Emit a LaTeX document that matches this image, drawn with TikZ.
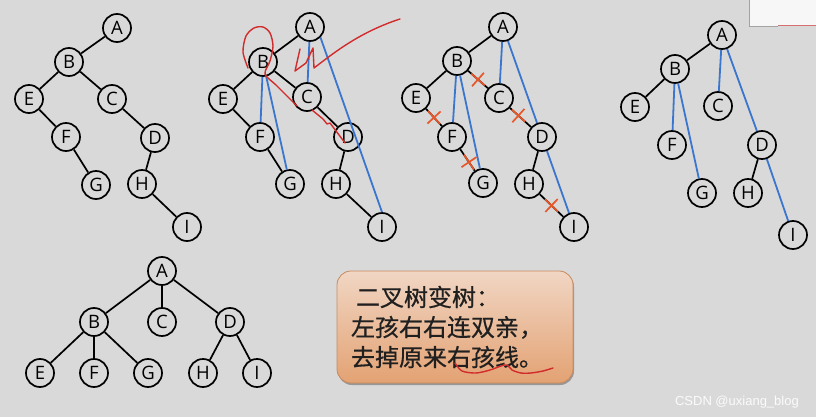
\documentclass[tikz,border=0pt]{standalone}
\usepackage{fontspec}
\setmainfont{Open Sans}
\newfontfamily\cjk[FakeBold=0.6]{Noto Sans CJK SC}
\newfontfamily\markfont{Liberation Sans}
\usetikzlibrary{shapes.misc,shadows}
\definecolor{bg}{HTML}{D9D9D9}
\definecolor{treeblue}{HTML}{3A76CF}
\definecolor{xred}{HTML}{E8572A}
\definecolor{penred}{HTML}{D22B2B}
\definecolor{boxtop}{HTML}{F1D6C4}
\definecolor{boxbot}{HTML}{E3A273}
\definecolor{boxline}{HTML}{C88A5C}
\definecolor{textgray}{HTML}{202020}

\begin{document}
\begin{tikzpicture}
  [x=1pt, y=-1pt, line width=1.7pt,
   vtx/.style={draw, circle, fill=bg, inner sep=0pt, minimum size=28pt,
               font=\fontsize{18.5}{18.5}\selectfont},
   blueline/.style={draw=treeblue, line width=1.8pt},
   cut/.style={cross out, draw=xred, sloped, rotate=45, minimum size=11pt,
               inner sep=0pt, line width=1.7pt},
   pen/.style={penred, line width=1.4pt, line cap=round, line join=round},
   tipbox/.style={draw=boxline, line width=0.8pt, rounded corners=14pt,
                  top color=boxtop, bottom color=boxbot,
                  minimum width=236pt, minimum height=112pt, text width=208pt,
                  inner xsep=14pt, align=left, text=textgray,
                  font=\cjk\fontsize{24}{30}\selectfont,
                  drop shadow={shadow xshift=1pt, shadow yshift=-2pt, opacity=0.3, fill=black}},
   level distance=51pt,
   level 1/.style={sibling distance=68pt},
   level 2/.style={sibling distance=54pt}]
  \useasboundingbox (0,0) rectangle (816,417);
  \fill[bg] (0,0) rectangle (816,417);
  \fill[white!80!bg] (749,0) rectangle (816,26);
  \draw[bg!75!black, line width=0.6pt] (749,0) -- (749,26) -- (778,26);
  \draw[penred!60!bg, line width=1pt] (778,26) -- (816,26);

  % binary tree
  \node[vtx] (A1) at (117,28) {A};
  \node[vtx] (B1) at (69,62) {B};
  \node[vtx] (E1) at (29,99) {E};
  \node[vtx] (C1) at (112,99) {C};
  \node[vtx] (F1) at (66,137) {F};
  \node[vtx] (D1) at (155,138) {D};
  \node[vtx] (G1) at (96,185) {G};
  \node[vtx] (H1) at (142,184) {H};
  \node[vtx] (I1) at (187,227) {I};
  \draw (A1) -- (B1) (B1) -- (E1) (B1) -- (C1) (E1) -- (F1) (F1) -- (G1)
        (C1) -- (D1) (D1) -- (H1) (H1) -- (I1);

  % connect parents
  \node[vtx] (A2) at (310,27) {A};
  \node[vtx] (B2) at (263,62) {B};
  \node[vtx] (E2) at (223,99) {E};
  \node[vtx] (C2) at (307,97) {C};
  \node[vtx] (F2) at (260,137) {F};
  \node[vtx] (D2) at (348,137) {D};
  \node[vtx] (G2) at (290,184) {G};
  \node[vtx] (H2) at (336,184) {H};
  \node[vtx] (I2) at (382,227) {I};
  \draw (A2) -- (B2) (B2) -- (E2) (B2) -- (C2) (E2) -- (F2) (F2) -- (G2)
        (C2) -- (D2) (D2) -- (H2) (H2) -- (I2);
  \draw[blueline] (A2) -- (C2) (A2.south east) -- (I2.north) (B2) -- (F2) (B2) -- (G2);
  \draw[pen] plot[smooth] coordinates {(248,68) (243,52) (246,36) (254,28) (263,27)
        (270,33) (273,46) (270,61) (265,74) (276,85) (288,97) (297,106)};
  \draw[pen] (312,110) -- (323,119) -- (327,124) -- (330,123) -- (345,143);
  \draw[pen] (300,49) -- (295,71) -- (306,63) -- (313,48) -- (314,68)
        .. controls (335,52) and (360,32) .. (400,19);

  % cut right child lines
  \node[vtx] (A3) at (503,27) {A};
  \node[vtx] (B3) at (457,61) {B};
  \node[vtx] (E3) at (416,98) {E};
  \node[vtx] (C3) at (499,98) {C};
  \node[vtx] (F3) at (452,137) {F};
  \node[vtx] (D3) at (542,137) {D};
  \node[vtx] (G3) at (483,183) {G};
  \node[vtx] (H3) at (529,184) {H};
  \node[vtx] (I3) at (574,227) {I};
  \draw (A3) -- (B3) (B3) -- (E3) (B3) -- (C3) (E3) -- (F3) (F3) -- (G3)
        (C3) -- (D3) (D3) -- (H3) (H3) -- (I3);
  \draw[blueline] (A3) -- (C3) (A3) -- (D3) (D3) -- (I3) (B3) -- (F3) (B3) -- (G3);
  \path (B3) -- (C3) node[cut, midway] (cutBC) {};
  \path (E3) -- (F3) node[cut, midway] (cutEF) {};
  \path (F3) -- (G3) node[cut, pos=0.6] (cutFG) {};
  \path (C3) -- (D3) node[cut, pos=0.4] (cutCD) {};
  \path (H3) -- (I3) node[cut, midway] (cutHI) {};

  % result
  \node[vtx] (A4) at (722,35) {A};
  \node[vtx] (B4) at (675,69) {B};
  \node[vtx] (E4) at (635,107) {E};
  \node[vtx] (C4) at (718,106) {C};
  \node[vtx] (F4) at (672,145) {F};
  \node[vtx] (D4) at (762,145) {D};
  \node[vtx] (G4) at (702,193) {G};
  \node[vtx] (H4) at (748,193) {H};
  \node[vtx] (I4) at (793,235) {I};
  \draw (A4) -- (B4) (B4) -- (E4) (D4) -- (H4);
  \draw[blueline] (A4) -- (C4) (A4) -- (D4) (D4) -- (I4) (B4) -- (F4) (B4) -- (G4);

  % tree
  \node[vtx] (A5) at (162,271) {A}
     child {node[vtx] (B5) {B}
       child {node[vtx] (E5) {E}}
       child {node[vtx] (F5) {F}}
       child {node[vtx] (G5) {G}}}
     child {node[vtx] (C5) {C}}
     child {node[vtx] (D5) {D}
       child {node[vtx] (H5) {H}}
       child {node[vtx] (I5) {I}}};

  \node[tipbox] (rule) at (455,327)
    {\hspace{5pt}二叉树变树：\\左孩右右连双亲，\\去掉原来右孩线。};
  \draw[pen] plot[smooth] coordinates {(455,363) (462,371) (476,373) (490,370) (501,366)
        (507,365) (512,370) (521,373) (531,373) (543,371) (553,368)};

  \node[anchor=east, text=white!90!bg, font=\markfont\fontsize{13}{13}\selectfont]
    (mark) at (803,402) {CSDN @uxiang\_blog};
\end{tikzpicture}
\end{document}
